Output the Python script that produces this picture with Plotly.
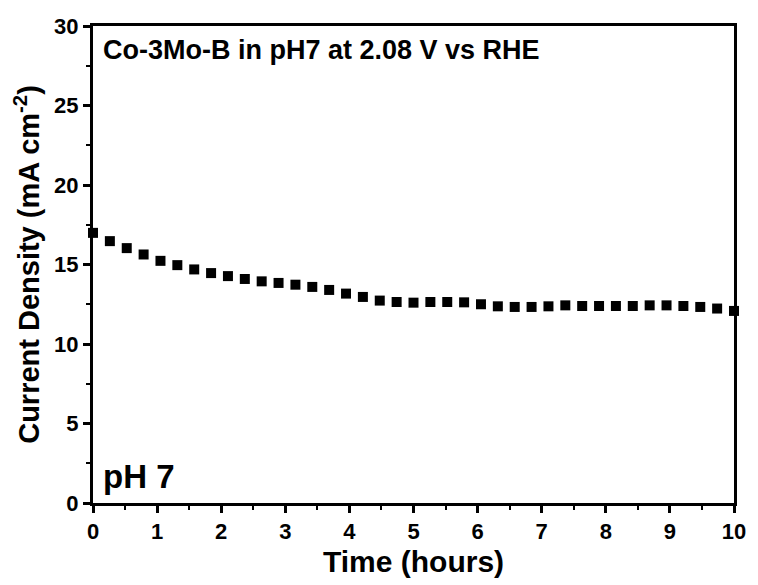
import numpy as np
import plotly.graph_objects as go

# время (часы) и плотность тока (mA cm-2)
time_h = np.linspace(0, 10, 39)
current = [16.99, 16.47, 16.03, 15.63, 15.23, 14.96, 14.69, 14.46, 14.27, 14.09,
           13.94, 13.84, 13.73, 13.59, 13.40, 13.17, 12.96, 12.73, 12.64, 12.60,
           12.64, 12.64, 12.62, 12.50, 12.37, 12.33, 12.33, 12.37, 12.43, 12.39,
           12.39, 12.39, 12.39, 12.43, 12.43, 12.39, 12.33, 12.23, 12.08]

font_family = "Arial, Liberation Sans, sans-serif"

fig = go.Figure()
fig.add_trace(go.Scatter(
    x=time_h, y=current, mode="markers",
    marker=dict(symbol="square", size=10, color="black"),
    cliponaxis=False, showlegend=False,
))

axis_common = dict(
    showline=True, linewidth=3, linecolor="black", mirror=True,
    ticks="outside", ticklen=7, tickwidth=3, tickcolor="black",
    showgrid=False, zeroline=False,
    tickfont=dict(family=font_family, size=22, color="black", weight="bold"),
)

fig.update_xaxes(
    range=[0, 10], dtick=1, **axis_common,
    minor=dict(dtick=0.5, ticks="outside", ticklen=4, tickwidth=2, tickcolor="black"),
    title=dict(text="Time (hours)", standoff=8,
               font=dict(family=font_family, size=30, color="black", weight="bold")),
)
fig.update_yaxes(
    range=[0, 30], dtick=5, **axis_common,
    minor=dict(dtick=2.5, ticks="outside", ticklen=4, tickwidth=2, tickcolor="black"),
    title=dict(text="Current Density (mA cm<sup>-2</sup>)", standoff=6,
               font=dict(family=font_family, size=29, color="black", weight="bold")),
)

fig.add_annotation(
    x=0.012, y=0.985, xref="paper", yref="paper", xanchor="left", yanchor="top",
    text="Co-3Mo-B in pH7 at 2.08 V vs RHE", showarrow=False,
    font=dict(family=font_family, size=27, color="black", weight="bold"),
)
fig.add_annotation(
    x=0.012, y=0.012, xref="paper", yref="paper", xanchor="left", yanchor="bottom",
    text="pH 7", showarrow=False,
    font=dict(family=font_family, size=33, color="black", weight="bold"),
)

fig.update_layout(
    width=758, height=585,
    margin=dict(l=93, r=17, t=26, b=80),
    plot_bgcolor="white", paper_bgcolor="white",
)

# график ровно в окно: без отступов body и без лишней высоты страницы
post = (
    "document.body.style.margin='0';"
    "var d=document.getElementById('{plot_id}');"
    "d.style.position='absolute';d.style.top='0';d.style.left='0';"
)
fig.write_html("out.html", post_script=post, config={"displayModeBar": False})
